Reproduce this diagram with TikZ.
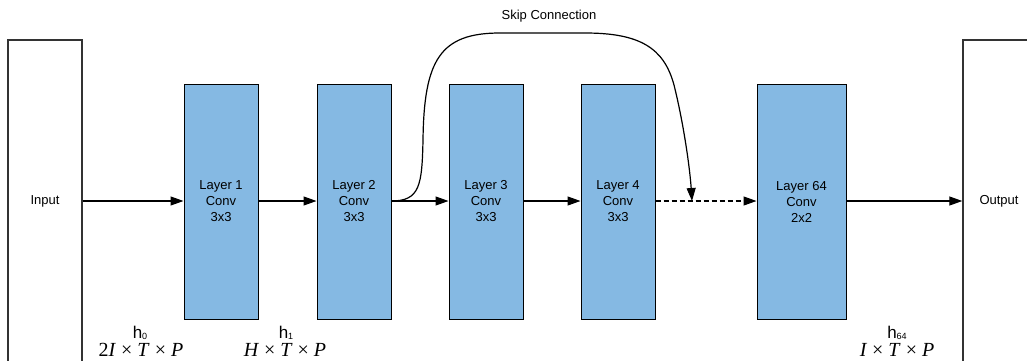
\documentclass[tikz,border=0pt]{standalone}
\usepackage{fontspec}
\setmainfont{Liberation Sans}
\newfontfamily\tmfont{Liberation Serif}
\usetikzlibrary{arrows.meta}
\definecolor{layerblue}{RGB}{133,185,227}
\definecolor{edgegray}{RGB}{51,51,51}
\begin{document}
\begin{tikzpicture}[x=1pt,y=-1pt,
  txt/.style={font=\fontsize{13}{16}\selectfont, align=center},
  iobox/.style={draw=edgegray, line width=1.4pt, minimum width=74pt, minimum height=322pt, inner sep=0pt, txt},
  layerbox/.style={draw=black, line width=1pt, fill=layerblue, minimum width=74pt, minimum height=235pt, inner sep=0pt, txt},
  flow/.style={-{Triangle[length=13pt,width=9pt]}, line width=1.2pt},
  dimlab/.style={font=\fontsize{20}{22}\selectfont\tmfont, inner sep=0pt, anchor=base},
  hlab/.style={font=\fontsize{17}{18}\selectfont, inner sep=0pt, anchor=base}
]
\useasboundingbox (0,0) rectangle (1027,361);
\clip (0,0) rectangle (1027,361);

% input / output frames
\node[iobox] (input) at (45,201) {Input};
\node[iobox, minimum width=72pt] (output) at (999,201) {Output};

% convolution layers
\node[layerbox] (l1) at (221,201.5) {Layer 1\\Conv\\3x3};
\node[layerbox] (l2) at (354,201.5) {Layer 2\\Conv\\3x3};
\node[layerbox] (l3) at (486,201.5) {Layer 3\\Conv\\3x3};
\node[layerbox] (l4) at (618,201.5) {Layer 4\\Conv\\3x3};
\node[layerbox, minimum width=89pt] (l64) at (801.5,201.5) {Layer 64\\Conv\\2x2};

% forward connections
\draw[flow] (input.east |- 0,201) -- (l1.west |- 0,201);
\draw[flow] (l1.east |- 0,201) -- (l2.west |- 0,201);
\draw[flow] (l2.east |- 0,201) -- (l3.west |- 0,201);
\draw[flow] (l3.east |- 0,201) -- (l4.west |- 0,201);
\draw[flow, dash pattern=on 5pt off 3pt] (l4.east |- 0,201) -- (l64.west |- 0,201);
\draw[flow] (l64.east |- 0,201) -- (output.west |- 0,201);

% skip connection
\coordinate (skipend) at (692,201);
\draw[flow] (l2.east |- 0,201) .. controls (420,201) and (422,185) .. (423,140)
  .. controls (424,60) and (440,33) .. (500,33) -- (585,33)
  .. controls (640,33) and (664,48) .. (674,85)
  .. controls (684,125) and (690,170) .. (skipend);
\node[txt] (skiplabel) at (549,16) {Skip Connection};

% tensor shapes
\node[hlab] (h0) at (140,338) {h\raisebox{-1pt}{\fontsize{9}{9}\selectfont 0}};
\node[dimlab] (s0) at (141,356) {2\textit{I} × \textit{T} × \textit{P}};
\node[hlab] (h1) at (286,338) {h\raisebox{-1pt}{\fontsize{9}{9}\selectfont 1}};
\node[dimlab] (s1) at (285,356) {\textit{H} × \textit{T} × \textit{P}};
\node[hlab] (h64) at (897,338) {h\raisebox{-1pt}{\fontsize{9}{9}\selectfont 64}};
\node[dimlab] (s64) at (897,356) {\textit{I} × \textit{T} × \textit{P}};
\end{tikzpicture}
\end{document}
